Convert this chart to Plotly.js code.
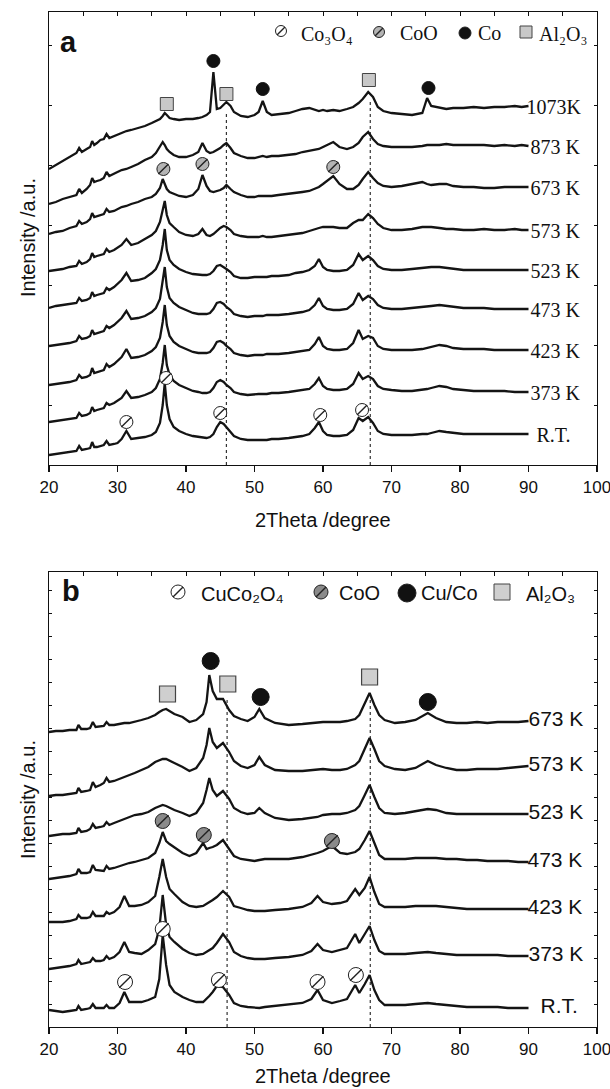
<!DOCTYPE html>
<html><head><meta charset="utf-8">
<script src="https://cdn.plot.ly/plotly-3.0.1.min.js"></script>
<style>html,body{margin:0;padding:0;background:#fff}</style>
</head><body>
<div id="chart" style="width:610px;height:1089px"></div>
<script>
// ---------- Panel a data (2Theta grid and intensity, a.u.) ----------
const xa = [20,21,22,23,24,24.4,24.8,25.5,26,26.3,26.6,27,27.5,28,28.4,28.8,29.5,30,30.6,31.3,32,33,34,35,35.6,36.2,36.6,36.9,37.2,37.6,38.2,39,40,41,41.8,42.4,43,43.5,44.0,44.5,45.0,45.5,45.9,46.5,47,48,49,50,50.6,51.2,51.8,52.5,53.5,55,56,57,58,58.8,59.4,60,60.6,61.5,62.4,63.5,64.4,65.2,65.8,66.6,67.3,68,68.8,70,71.5,73,74.5,75.2,75.8,77,78,79,80.5,82,83.5,85,86.5,88,89,90];
const labelsA = ["1073K","873 K","673 K","573 K","523 K","473 K","423 K","373 K","R.T."];
const a1073 = [296,300,304,308,312,317,313,316,318,324,320,322,325,326,331,327,329,331,332,334,335,337,339,342,344,346,349,352,350,347,346,345,346,346,347,348,350,353,393,356,357,360,363,359,353,349,348,350,353,364,353,350,351,352,354,356,357,355,354,355,354,355,354,356,358,362,366,373,368,358,354,352,351,350,352,367,359,357,356,357,357,358,357,358,358,359,358,359];
const a873 = [261,263,266,268,270,276,272,276,280,287,283,284,285,287,293,289,291,293,295,296,298,301,305,308,312,318,323,320,316,313,310,308,308,310,313,322,314,312,313,315,317,320,322,317,312,309,307,307,308,309,308,309,309,310,311,313,314,315,316,318,320,323,318,316,318,322,328,333,326,321,319,318,318,318,319,320,320,320,321,320,320,320,320,319,320,319,320,319];
const a673 = [231,233,234,237,239,244,241,243,246,252,248,249,250,251,256,253,254,256,258,259,261,263,266,268,271,277,286,281,276,273,271,269,268,270,276,290,279,274,273,274,275,277,280,276,273,270,268,268,269,269,269,269,270,271,272,273,274,276,278,281,284,289,281,276,276,280,286,293,287,282,279,278,279,281,283,281,280,281,281,279,278,278,277,277,278,278,278,278];
const a573 = [194,195,196,198,199,204,201,203,206,212,208,209,210,211,216,213,215,217,220,226,220,222,226,230,234,243,255,264,250,242,238,233,230,229,231,236,230,229,231,234,237,239,238,235,231,229,228,228,228,229,228,228,229,230,231,232,234,236,237,238,238,238,237,237,242,245,245,251,247,241,237,235,235,236,238,238,238,237,236,236,235,235,236,235,235,236,235,235];
const a523 = [157,159,160,161,162,167,164,165,167,173,169,170,171,172,177,175,178,181,185,192,184,185,187,192,196,205,220,236,215,205,200,196,193,191,190,190,190,191,194,199,200,198,196,193,189,187,187,188,188,188,188,189,189,190,192,193,195,199,206,198,195,194,194,195,200,211,205,209,205,199,196,195,195,196,197,197,198,198,197,196,195,195,195,195,195,195,195,195];
const a473 = [119,120,121,122,124,129,126,127,129,135,131,132,133,134,139,137,140,143,147,154,146,147,149,153,157,166,182,198,178,167,162,158,155,152,151,151,151,152,156,162,163,161,158,155,151,149,148,149,149,149,150,150,150,151,152,153,155,160,167,159,156,155,155,156,161,172,165,169,166,160,157,156,156,157,158,158,159,160,159,158,157,157,157,156,156,156,156,156];
const a423 = [80,81,82,83,85,90,87,88,90,97,92,93,94,95,101,98,101,104,108,116,107,108,110,114,118,127,143,160,140,129,123,119,116,113,112,112,112,113,117,123,124,122,119,116,112,110,109,110,110,110,111,111,111,112,113,114,115,121,128,119,116,115,115,116,122,135,126,129,127,119,116,115,115,115,116,117,118,120,119,117,116,116,116,115,115,115,115,115];
const a373 = [43,44,45,46,47,52,49,50,52,58,54,55,56,57,62,60,62,64,67,74,67,68,70,73,77,86,102,120,100,90,84,80,77,74,73,72,72,73,77,83,85,83,80,77,73,71,70,71,71,71,71,72,72,73,74,75,76,81,87,79,76,75,75,76,81,92,86,89,86,79,76,75,74,74,75,76,77,79,78,76,75,74,74,74,74,73,73,73];
const aRT = [10,11,12,13,14,19,15,16,17,23,18,18,19,20,24,20,21,22,26,34,26,27,28,30,33,42,60,82,60,46,38,34,31,29,28,27,27,28,31,38,43,41,38,33,29,26,25,25,25,25,25,26,26,27,28,29,31,37,43,34,30,29,29,30,35,47,44,48,42,34,31,30,30,30,31,31,32,34,33,32,31,31,31,31,31,31,31,31];
// phase markers, panel a (2Theta, height)
const aCo3O4X = [31.3,37.1,45.0,59.6,65.7], aCo3O4Y = [43,87,52,50,55];
const aCoOX = [36.7,42.4,61.5], aCoOY = [296,301,298];
const aCoX = [44.0,51.2,75.4], aCoY = [404,376,377];
const aAlX = [37.2,45.9,66.7], aAlY = [361,371,385];
const aRefX = [45.9,66.9], aRefTop = [352,365];

// ---------- Panel b data ----------
const xb = [20,21,22,23,24,24.3,24.7,25.5,26,26.4,26.8,27.5,28,28.4,28.8,29.5,30.3,31,31.7,32.5,33.5,34.5,35.5,36.1,36.6,37.1,37.6,38.3,39.5,40.5,41.5,42.5,43.0,43.4,43.9,44.5,45.4,46.3,47,48,49,50,50.7,51.5,53,55,57,58.3,59.2,60,61.3,62.5,63.5,64.7,65.3,66.1,66.8,67.5,68.2,69,70.5,72,73.5,75.3,76.5,78,79.5,81,82.5,84,85.5,87,88.5,90];
const labelsB = ["673 K","573 K","523 K","473 K","423 K","373 K","R.T."];
const b673 = [295,296,296,297,297,302,298,298,299,305,300,301,301,305,302,302,303,304,304,305,307,309,312,315,317,318,316,313,310,305,307,313,325,352,336,328,328,317,311,308,306,310,318,309,304,302,303,304,305,305,305,305,306,308,312,323,334,322,312,307,304,305,307,314,309,305,304,304,305,304,305,305,305,306];
const b573 = [231,232,232,233,234,239,235,236,237,245,240,242,244,249,245,246,248,250,252,254,257,260,265,267,268,268,266,264,260,256,259,269,282,299,285,279,284,275,266,261,259,262,270,262,257,256,256,257,258,258,257,257,258,262,266,278,289,278,266,261,258,257,259,266,262,259,257,257,258,258,258,259,260,261];
const b523 = [191,192,193,193,194,199,195,196,198,203,199,200,201,205,202,204,206,208,210,212,213,215,219,221,222,221,219,217,214,211,214,224,237,249,237,231,236,228,219,215,213,214,219,214,209,207,208,209,210,212,213,213,214,217,221,232,242,230,219,214,213,214,216,218,217,214,213,213,213,213,213,213,213,213];
const b473 = [148,149,150,151,153,158,154,154,155,162,157,156,156,161,158,159,161,163,164,165,167,169,174,184,195,186,183,180,174,171,174,184,178,179,180,182,187,178,171,168,167,166,167,168,168,168,170,172,174,176,181,174,173,175,178,187,196,184,172,168,168,168,169,169,169,168,168,167,167,166,166,166,165,165];
const b423 = [105,105,105,106,108,112,109,109,110,115,111,111,111,115,113,115,120,131,121,121,122,125,131,150,168,150,138,133,125,121,120,121,123,125,127,130,136,130,121,119,117,116,116,116,117,118,120,124,131,125,123,124,126,138,132,139,150,135,123,120,120,120,121,121,121,120,119,118,118,118,118,118,118,118];
const b373 = [58,59,60,61,63,67,63,64,65,69,66,66,67,71,68,70,75,85,75,74,73,77,83,98,132,102,90,85,78,74,72,73,75,77,79,84,93,85,75,71,69,68,68,68,69,70,72,76,83,77,75,77,79,93,84,93,101,87,76,73,73,73,74,75,74,73,72,72,72,72,72,71,71,71];
const bRT = [17,16,15,16,17,21,17,18,19,23,19,19,19,22,19,19,24,35,25,25,25,27,30,48,92,62,42,35,30,27,25,25,28,31,35,41,40,32,24,21,20,19,19,20,21,22,24,28,37,27,24,26,28,42,34,43,52,37,27,22,22,22,23,24,23,22,21,20,20,20,20,19,19,19];
// phase markers, panel b
const bCuCoOX = [31.1,36.6,44.8,59.2,64.8], bCuCoOY = [45,98,47,45,52];
const bCoOX = [36.6,42.6,61.3], bCoOY = [206,192,186];
const bCuCoX = [43.6,50.9,75.3], bCuCoY = [366,330,325];
const bAlX = [37.3,46.1,66.8], bAlY = [333,343,350];
const bRefX = [46.0,66.9], bRefTop = [330,327];

// ---------- build ----------
const W = 610, H = 1089;
const px = v => v / W, py = v => 1 - v / H;
const SANS = 'Liberation Sans, Arial, sans-serif';
const SERIF = 'Liberation Serif, Times New Roman, serif';
const LC = '#141414';
const traces = [];

function refLines(xs, tops, xa_, ya_) {
  xs.forEach((x, i) => traces.push({x: [x, x], y: [0, tops[i]], xaxis: xa_, yaxis: ya_, mode: 'lines',
    line: {color: '#333', width: 1.2, dash: 'dot'}, hoverinfo: 'skip', showlegend: false}));
}
refLines(aRefX, aRefTop, 'x', 'y');
refLines(bRefX, bRefTop, 'x2', 'y2');

const seriesA = [a1073, a873, a673, a573, a523, a473, a423, a373, aRT];
const seriesB = [b673, b573, b523, b473, b423, b373, bRT];
seriesA.forEach(s => traces.push({x: xa, y: s, xaxis: 'x', yaxis: 'y', mode: 'lines', line: {color: LC, width: 2.3}, showlegend: false}));
seriesB.forEach(s => traces.push({x: xb, y: s, xaxis: 'x2', yaxis: 'y2', mode: 'lines', line: {color: LC, width: 2.3}, showlegend: false}));

function mk(xs, ys, xa_, ya_, symbol, size, fill, lineColor, lw) {
  traces.push({x: xs, y: ys, xaxis: xa_, yaxis: ya_, mode: 'markers', showlegend: false, hoverinfo: 'skip',
    marker: {symbol: symbol, size: size, color: fill, line: {color: lineColor, width: lw}}});
}
function hatched(xs, ys, xa_, ya_, size, fill) {
  mk(xs, ys, xa_, ya_, 'circle', size, fill, '#222', 1);
  mk(xs, ys, xa_, ya_, 'line-ne', size * 0.78, '#222', '#222', 1.4);
}
// panel a markers
hatched(aCo3O4X, aCo3O4Y, 'x', 'y', 13, '#ffffff');
hatched(aCoOX, aCoOY, 'x', 'y', 13, '#b4b4b4');
mk(aCoX, aCoY, 'x', 'y', 'circle', 13, '#111', '#111', 1);
mk(aAlX, aAlY, 'x', 'y', 'square', 13, '#c8c8c8', '#444', 1);
// panel b markers
hatched(bCuCoOX, bCuCoOY, 'x2', 'y2', 15, '#ffffff');
hatched(bCoOX, bCoOY, 'x2', 'y2', 15, '#8a8a8a');
mk(bCuCoX, bCuCoY, 'x2', 'y2', 'circle', 17, '#111', '#111', 1);
mk(bAlX, bAlY, 'x2', 'y2', 'square', 16, '#cfcfcf', '#444', 1.2);

// sample labels as text traces placed at each pattern's last point
const degPerPx = 80 / 548;
function labelTrace(xs, series, labels, xa_, ya_, font, shifts, yshift) {
  traces.push({
    x: series.map((s, i) => xs[xs.length - 1] + shifts[i] * degPerPx),
    y: series.map(s => s[s.length - 1] + yshift),
    text: labels, mode: 'text', textposition: 'middle right', xaxis: xa_, yaxis: ya_,
    textfont: font, hoverinfo: 'skip', showlegend: false, cliponaxis: false
  });
}
labelTrace(xa, seriesA, labelsA, 'x', 'y', {family: SERIF, size: 20, color: '#111'}, [-2, 2, 2, 2, 2, 2, 2, 2, 8], -3);
labelTrace(xb, seriesB, labelsB, 'x2', 'y2', {family: SANS, size: 21, color: '#111'}, [0, 0, 0, -1, -1, 0, 12], 0);

const annotations = [];
function pann(text, x, y, font, extra) {
  annotations.push(Object.assign({text: text, x: px(x), y: py(y), xref: 'paper', yref: 'paper', showarrow: false,
    xanchor: 'left', yanchor: 'middle', font: font}, extra || {}));
}
// panel letters
pann('<b>a</b>', 58, 42, {family: SANS, size: 29, color: '#111'});
pann('<b>b</b>', 60, 591, {family: SANS, size: 29, color: '#111'});
// axis titles
pann('2Theta /degree', 323, 520, {family: SANS, size: 20, color: '#111'}, {xanchor: 'center'});
pann('2Theta /degree', 323, 1076, {family: SANS, size: 20, color: '#111'}, {xanchor: 'center'});
pann('Intensity /a.u.', 28, 238, {family: SANS, size: 20, color: '#111'}, {xanchor: 'center', textangle: -90});
pann('Intensity /a.u.', 28, 800, {family: SANS, size: 20, color: '#111'}, {xanchor: 'center', textangle: -90});
// legend texts (unicode subscripts)
const fa = {family: SERIF, size: 20, color: '#111'};
pann('Co\u2083O\u2084', 299, 34, fa);
pann('CoO', 398, 33, fa);
pann('Co', 476, 33, fa);
pann('Al\u2082O\u2083', 537, 34, fa);
const fb = {family: SANS, size: 20, color: '#111'};
pann('CuCo\u2082O\u2084', 199, 594, fb);
pann('CoO', 337, 593, fb);
pann('Cu/Co', 419, 593, fb);
pann('Al\u2082O\u2083', 524, 594, fb);

// legend symbols as shapes (pixel positions)
const shapes = [];
function circ(cx, cy, r, fill, lw) {
  shapes.push({type: 'circle', xref: 'paper', yref: 'paper', x0: px(cx - r), x1: px(cx + r), y0: py(cy + r), y1: py(cy - r),
    fillcolor: fill, line: {color: '#222', width: lw}});
}
function slash(cx, cy, r) {
  const d = r * 0.72;
  shapes.push({type: 'line', xref: 'paper', yref: 'paper', x0: px(cx - d), y0: py(cy + d), x1: px(cx + d), y1: py(cy - d),
    line: {color: '#222', width: 1.4}});
}
function sq(cx, cy, h, fill) {
  shapes.push({type: 'rect', xref: 'paper', yref: 'paper', x0: px(cx - h), x1: px(cx + h), y0: py(cy + h), y1: py(cy - h),
    fillcolor: fill, line: {color: '#444', width: 1}});
}
circ(281, 31, 5.5, '#fff', 1); slash(281, 31, 5.5);
circ(379, 32, 5.5, '#b4b4b4', 1); slash(379, 32, 5.5);
circ(465, 33, 6, '#111', 1);
sq(526, 32, 6, '#c8c8c8');
circ(178, 592, 7, '#fff', 1); slash(178, 592, 7);
circ(321, 592, 7, '#8a8a8a', 1); slash(321, 592, 7);
circ(407, 593, 9, '#111', 1);
sq(502, 592, 8, '#cfcfcf');

const xBase = {range: [20, 100], tick0: 20, dtick: 10, ticks: 'outside', ticklen: 6, tickwidth: 1.3, tickcolor: '#111',
  showline: true, mirror: true, linecolor: '#111', linewidth: 1.4, showgrid: false, zeroline: false,
  ticklabeloverflow: 'allow', tickfont: {family: SANS, size: 17, color: '#111'}, fixedrange: true};
const xTop = {range: [20, 100], tick0: 20, dtick: 5, ticks: 'inside', ticklen: 4, tickwidth: 1, tickcolor: '#111',
  showline: false, showgrid: false, zeroline: false, showticklabels: false, side: 'top'};
const yBase = {showline: true, mirror: 'ticks', linecolor: '#111', linewidth: 1.4, ticks: 'inside', ticklen: 3,
  tickwidth: 1, tickcolor: '#111', showticklabels: false, showgrid: false, zeroline: false, fixedrange: true};

const layout = {
  width: W, height: H, margin: {l: 0, r: 0, t: 0, b: 0}, paper_bgcolor: '#fff', plot_bgcolor: '#fff', showlegend: false,
  xaxis: Object.assign({}, xBase, {domain: [px(49), px(597)], anchor: 'y'}),
  yaxis: Object.assign({}, yBase, {domain: [py(465), py(12)], range: [0, 453], dtick: 60, anchor: 'x'}),
  xaxis2: Object.assign({}, xBase, {domain: [px(49), px(597)], anchor: 'y2'}),
  yaxis2: Object.assign({}, yBase, {domain: [py(1027), py(572)], range: [0, 455], dtick: 23, anchor: 'x2'}),
  xaxis3: Object.assign({}, xTop, {overlaying: 'x', anchor: 'y'}),
  xaxis4: Object.assign({}, xTop, {overlaying: 'x2', anchor: 'y2'}),
  annotations: annotations, shapes: shapes
};
// keep top-tick axes alive
traces.push({x: [20], y: [0], xaxis: 'x3', yaxis: 'y', mode: 'markers', marker: {opacity: 0}, hoverinfo: 'skip', showlegend: false});
traces.push({x: [20], y: [0], xaxis: 'x4', yaxis: 'y2', mode: 'markers', marker: {opacity: 0}, hoverinfo: 'skip', showlegend: false});

Plotly.newPlot('chart', traces, layout, {staticPlot: true, displayModeBar: false});
</script>
</body></html>
